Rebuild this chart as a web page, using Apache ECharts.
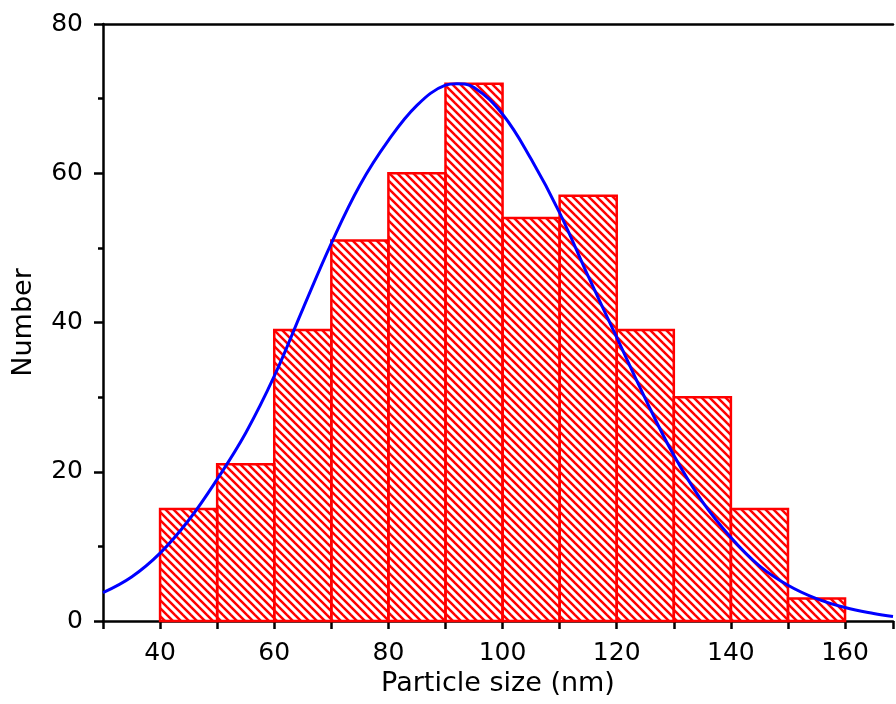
<!DOCTYPE html>
<html>
<head>
<meta charset="utf-8">
<script src="https://cdn.jsdelivr.net/npm/echarts@6/dist/echarts.min.js"></script>
<style>
  html, body { margin: 0; padding: 0; background: #fff; }
  #chart { width: 896px; height: 704px; }
</style>
</head>
<body>
<div id="chart"></div>
<script>
// histogram bins (nm) and counts
const binStart = [40, 50, 60, 70, 80, 90, 100, 110, 120, 130, 140, 150];
const binWidth = 10;
const counts = [15, 21, 39, 51, 60, 72, 54, 57, 39, 30, 15, 3];

// fitted curve
const curveX = [30, 35, 40, 45, 50, 55, 60, 65, 70, 75, 80, 85, 90, 92, 95, 100, 105, 110, 115, 120, 125, 130, 135, 140, 145, 150, 155, 160, 165, 168.4];
const curveY = [3.8, 5.9, 9.1, 13.5, 19.0, 25.2, 32.8, 41.8, 50.6, 58.4, 64.4, 69.1, 71.8, 72, 71.5, 67.9, 61.9, 54.7, 46.2, 38.0, 29.8, 22.2, 16.0, 11.2, 7.4, 4.8, 3.0, 1.8, 1.0, 0.6];

// hatch pattern (red diagonal lines)
const hatch = document.createElement('canvas');
hatch.width = 8;
hatch.height = 8;
const hctx = hatch.getContext('2d');
hctx.strokeStyle = '#ff0000';
hctx.lineWidth = 2.5;
for (let k = -1; k <= 1; k++) {
	hctx.beginPath();
	hctx.moveTo(-2, -2 + k * 8);
	hctx.lineTo(10, 10 + k * 8);
	hctx.stroke();
}

let chart = echarts.init(document.getElementById('chart'));
const font = 'DejaVu Sans, sans-serif';

let option = {
	animation: false,
	grid: { left: 103, right: 0, top: 24, bottom: 83 },
	xAxis: [{
		type: 'value',
		min: 30,
		max: 168.4,
		interval: 10,
		name: 'Particle size (nm)',
		nameLocation: 'middle',
		nameGap: 48,
		nameTextStyle: { color: '#000', fontSize: 27, fontFamily: font },
		axisLine: { lineStyle: { color: '#000', width: 2.5 } },
		axisTick: { length: 8, lineStyle: { color: '#000', width: 2.5 } },
		axisLabel: {
			margin: 20,
			color: '#000',
			fontSize: 25,
			fontFamily: font,
			formatter: (v) => (v % 20 === 0 ? String(v) : '')
		},
		splitLine: { show: false }
	}, {
		// top frame line
		type: 'value',
		position: 'top',
		min: 30,
		max: 168.4,
		axisLine: { show: true, lineStyle: { color: '#000', width: 2.5 } },
		axisTick: { show: false },
		axisLabel: { show: false },
		splitLine: { show: false }
	}],
	yAxis: {
		type: 'value',
		min: 0,
		max: 80,
		interval: 20,
		name: 'Number',
		nameLocation: 'middle',
		nameGap: 66,
		nameTextStyle: { color: '#000', fontSize: 27, fontFamily: font },
		axisLine: { show: true, lineStyle: { color: '#000', width: 2.5 } },
		axisTick: { length: 9, lineStyle: { color: '#000', width: 2.5 } },
		minorTick: { show: true, splitNumber: 2, length: 5, lineStyle: { color: '#000', width: 2.5 } },
		axisLabel: { margin: 20, color: '#000', fontSize: 25, fontFamily: font },
		splitLine: { show: false }
	},
	series: [{
		type: 'custom',
		data: binStart.map((s, i) => [s, s + binWidth, counts[i]]),
		renderItem: (params, api) => {
			const p0 = api.coord([api.value(0), api.value(2)]);
			const p1 = api.coord([api.value(1), 0]);
			return {
				type: 'rect',
				shape: { x: p0[0], y: p0[1], width: p1[0] - p0[0], height: p1[1] - p0[1] },
				style: {
					fill: { image: hatch, repeat: 'repeat' },
					stroke: '#ff0000',
					lineWidth: 2.5
				}
			};
		},
		z: 2
	}, {
		type: 'line',
		data: curveX.map((x, i) => [x, curveY[i]]),
		smooth: 0.4,
		symbol: 'none',
		lineStyle: { color: '#0000ff', width: 3 },
		z: 3
	}]
};
chart.setOption(option);
</script>
</body>
</html>
